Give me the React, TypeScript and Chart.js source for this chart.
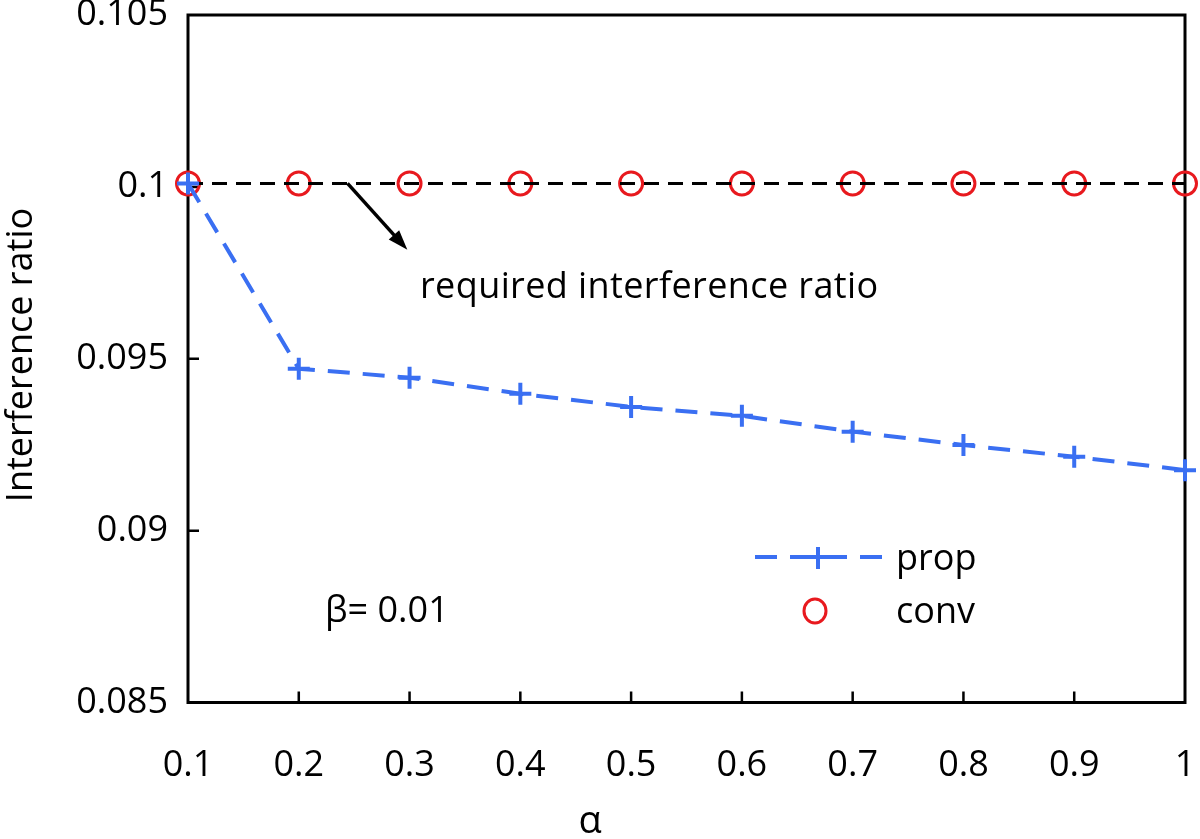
import React, { useEffect, useRef } from "react";
import { Chart, registerables } from "chart.js";

Chart.register(...registerables);

const alphaValues = [0.1, 0.2, 0.3, 0.4, 0.5, 0.6, 0.7, 0.8, 0.9, 1.0];
const propValues = [0.1001, 0.09471, 0.09445, 0.09398, 0.0936, 0.09334, 0.09288, 0.09249, 0.09215, 0.09176];
const convValues = [0.1001, 0.1001, 0.1001, 0.1001, 0.1001, 0.1001, 0.1001, 0.1001, 0.1001, 0.1001];
const requiredRatio = 0.1001;
const xTickLabels = ["0.1", "0.2", "0.3", "0.4", "0.5", "0.6", "0.7", "0.8", "0.9", "1"];
const yTickValues = [0.085, 0.09, 0.095, 0.1, 0.105];
const yTickLabels = ["0.085", "0.09", "0.095", "0.1", "0.105"];
const seriesNames = ["prop", "conv"];

const FONT = "'Open Sans', sans-serif";
const BLUE = "#3a6ff2";
const RED = "#e8191e";

const overlayPlugin = {
  id: "overlay",
  beforeDatasetsDraw(chart: any) {
    const { ctx, chartArea } = chart;
    const xs = chart.scales.x;
    const ys = chart.scales.y;
    ctx.save();
    ctx.strokeStyle = "#000";
    ctx.lineWidth = 3;
    ctx.strokeRect(chartArea.left, chartArea.top, chartArea.right - chartArea.left, chartArea.bottom - chartArea.top);
    ctx.lineWidth = 2.5;
    ctx.beginPath();
    xs.ticks.forEach((t: any) => {
      const px = xs.getPixelForValue(t.value);
      if (px <= chartArea.left + 2 || px >= chartArea.right - 2) return;
      ctx.moveTo(px, chartArea.bottom);
      ctx.lineTo(px, chartArea.bottom - 11);
    });
    ys.ticks.forEach((t: any) => {
      const py = ys.getPixelForValue(t.value);
      if (py <= chartArea.top + 2 || py >= chartArea.bottom - 2) return;
      ctx.moveTo(chartArea.left, py);
      ctx.lineTo(chartArea.left + 11, py);
    });
    ctx.stroke();
    ctx.restore();
  },
  afterDraw(chart: any) {
    const { ctx } = chart;
    const xs = chart.scales.x;
    const ys = chart.scales.y;
    ctx.save();
    // arrow annotation
    const x0 = xs.getPixelForValue(0.244);
    const y0 = ys.getPixelForValue(requiredRatio);
    const x1 = xs.getPixelForValue(0.298);
    const y1 = ys.getPixelForValue(0.09817);
    const ang = Math.atan2(y1 - y0, x1 - x0);
    ctx.strokeStyle = "#000";
    ctx.fillStyle = "#000";
    ctx.lineWidth = 3.5;
    ctx.beginPath();
    ctx.moveTo(x0, y0);
    ctx.lineTo(x1 - 14 * Math.cos(ang), y1 - 14 * Math.sin(ang));
    ctx.stroke();
    ctx.beginPath();
    ctx.moveTo(x1, y1);
    ctx.lineTo(x1 - 20 * Math.cos(ang) + 7 * Math.sin(ang), y1 - 20 * Math.sin(ang) - 7 * Math.cos(ang));
    ctx.lineTo(x1 - 20 * Math.cos(ang) - 7 * Math.sin(ang), y1 - 20 * Math.sin(ang) + 7 * Math.cos(ang));
    ctx.closePath();
    ctx.fill();

    ctx.font = `36px ${FONT}`;
    ctx.textBaseline = "alphabetic";
    ctx.textAlign = "left";
    (ctx as any).letterSpacing = "0.4px";
    ctx.fillText("required interference ratio", 420, 298);
    (ctx as any).letterSpacing = "0px";
    ctx.fillText("β= 0.01", 325, 622);

    // legend
    ctx.strokeStyle = BLUE;
    ctx.lineWidth = 4;
    ctx.setLineDash([22, 13]);
    ctx.beginPath();
    ctx.moveTo(755, 557);
    ctx.lineTo(882, 557);
    ctx.stroke();
    ctx.setLineDash([]);
    ctx.beginPath();
    ctx.moveTo(807, 557);
    ctx.lineTo(829, 557);
    ctx.moveTo(818, 547);
    ctx.lineTo(818, 569);
    ctx.stroke();
    ctx.strokeStyle = RED;
    ctx.lineWidth = 3;
    ctx.beginPath();
    ctx.ellipse(815, 611, 11, 12, 0, 0, Math.PI * 2);
    ctx.stroke();
    ctx.fillStyle = "#000";
    ctx.fillText(seriesNames[0], 896, 570);
    ctx.fillText(seriesNames[1], 896, 623);

    // axis titles
    ctx.font = `38px ${FONT}`;
    ctx.textAlign = "center";
    ctx.textBaseline = "middle";
    ctx.fillText("α", 590, 822);
    ctx.font = `36px ${FONT}`;
    ctx.save();
    ctx.translate(22, 355);
    ctx.rotate(-Math.PI / 2);
    ctx.fillText("Interference ratio", 0, 0);
    ctx.restore();
    ctx.restore();
  },
};

export default function App() {
  const ref = useRef<HTMLCanvasElement | null>(null);
  useEffect(() => {
    document.body.style.margin = "0";
    if (!ref.current) return;
    const chart = new Chart(ref.current, {
      type: "line",
      data: {
        datasets: [
          {
            label: seriesNames[0],
            data: alphaValues.map((a, i) => ({ x: a, y: propValues[i] })),
            borderColor: BLUE,
            backgroundColor: BLUE,
            borderWidth: 4,
            borderDash: [22, 13],
            pointStyle: "cross",
            pointRadius: 11,
            pointBorderWidth: 4,
            pointBorderColor: BLUE,
            tension: 0,
            clip: false,
            order: 0,
          },
          {
            label: "required",
            data: [
              { x: alphaValues[0], y: requiredRatio },
              { x: alphaValues[alphaValues.length - 1], y: requiredRatio },
            ],
            borderColor: "#000",
            borderWidth: 3,
            borderDash: [15, 9],
            pointRadius: 0,
            clip: false,
            order: 1,
          },
          {
            label: seriesNames[1],
            data: alphaValues.map((a, i) => ({ x: a, y: convValues[i] })),
            showLine: false,
            pointStyle: "circle",
            pointRadius: 11.5,
            pointBorderWidth: 3,
            pointBorderColor: RED,
            pointBackgroundColor: "rgba(0,0,0,0)",
            clip: false,
            order: 2,
          },
        ],
      } as any,
      options: {
        animation: false,
        responsive: false,
        devicePixelRatio: 1,
        layout: { padding: { top: 13, right: 12, left: 0, bottom: 0 } },
        plugins: { legend: { display: false }, tooltip: { enabled: false } },
        scales: {
          x: {
            type: "linear",
            min: 0.1,
            max: 1,
            border: { display: false },
            grid: { display: false, drawTicks: false },
            ticks: {
              stepSize: 0.1,
              padding: 42,
              color: "#000",
              font: { family: FONT, size: 36 },
              callback: (v: any) => {
                const i = alphaValues.findIndex((a) => Math.abs(a - Number(v)) < 1e-6);
                return i >= 0 ? xTickLabels[i] : "";
              },
              maxRotation: 0,
              autoSkip: false,
            },
            afterFit: (s: any) => {
              s.height = 136.5;
              s.paddingLeft = 0;
              s.paddingRight = 0;
            },
          },
          y: {
            min: 0.085,
            max: 0.105,
            border: { display: false },
            grid: { display: false, drawTicks: false },
            ticks: {
              stepSize: 0.005,
              padding: 20,
              color: "#000",
              font: { family: FONT, size: 36 },
              callback: (v: any) => {
                const i = yTickValues.findIndex((a) => Math.abs(a - Number(v)) < 1e-7);
                return i >= 0 ? yTickLabels[i] : "";
              },
            },
            afterFit: (s: any) => {
              s.width = 188;
              s.paddingTop = 0;
              s.paddingBottom = 0;
            },
          },
        },
      },
      plugins: [overlayPlugin],
    });
    return () => chart.destroy();
  }, []);
  return (
    <div style={{ width: 1200, height: 839, background: "#fff" }}>
      <canvas ref={ref} width={1200} height={839} style={{ display: "block" }} />
    </div>
  );
}
